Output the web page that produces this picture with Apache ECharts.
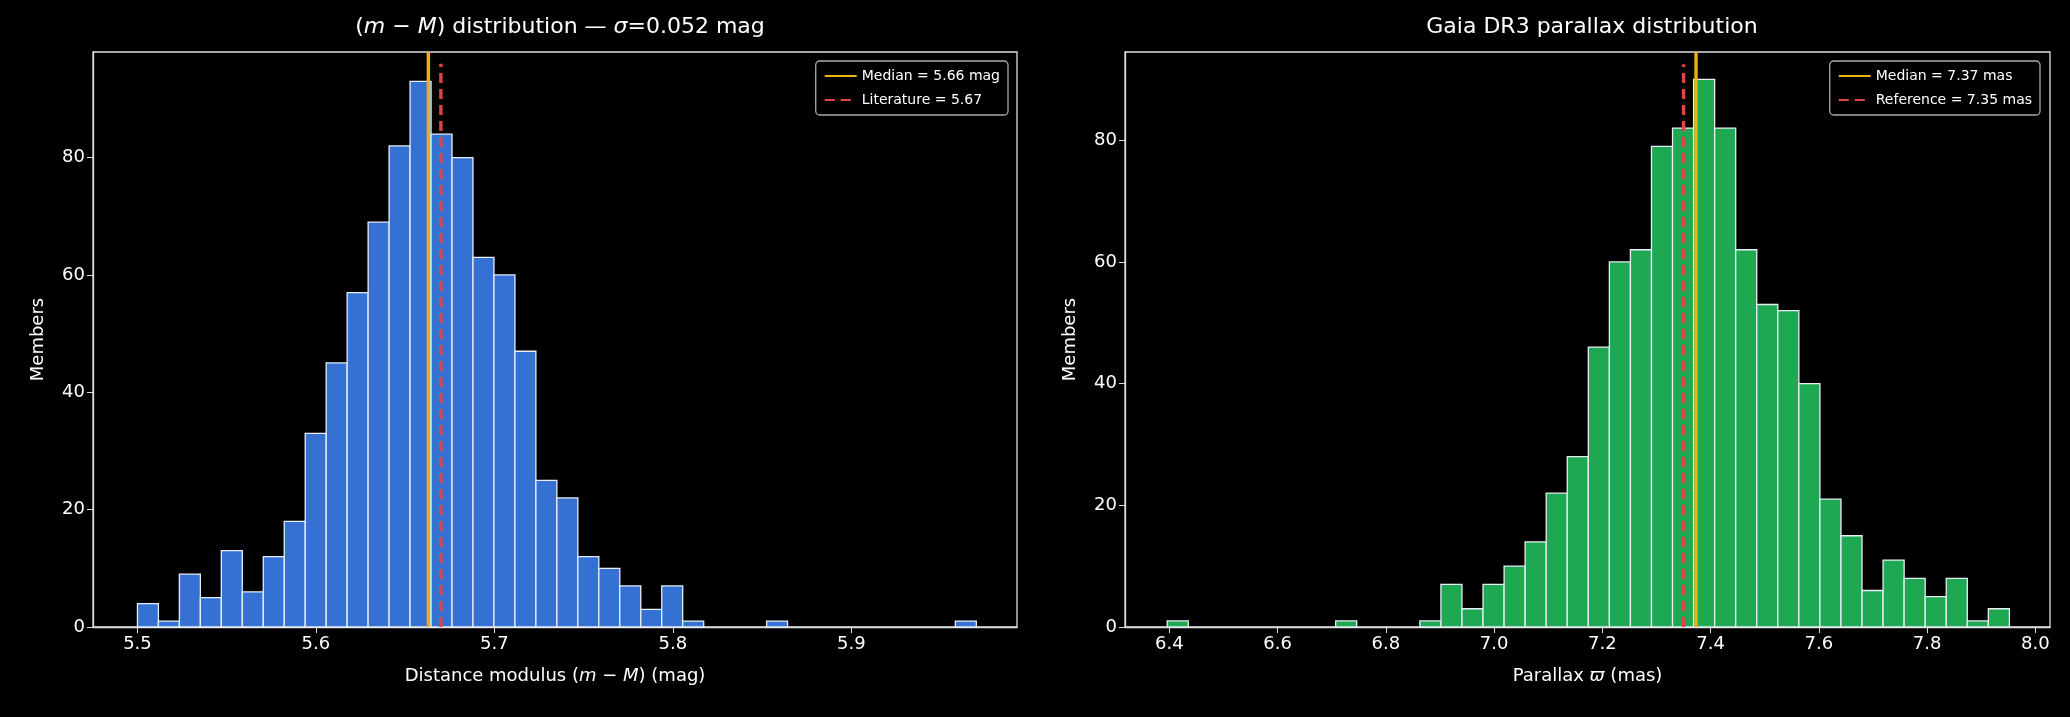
<!DOCTYPE html>
<html><head><meta charset="utf-8">
<script src="https://cdn.jsdelivr.net/npm/echarts@6/dist/echarts.min.js"></script>
<style>html,body{margin:0;padding:0;background:#000;}#c{width:2070px;height:717px;}</style>
</head><body><div id="c"></div>
<script>
// Left: distance modulus histogram (40 bins)
const dmStart = 5.5, dmWidth = 0.01175;
const dmCounts = [4,1,9,5,13,6,12,18,33,45,57,69,82,93,84,80,63,60,47,25,22,12,10,7,3,7,1,0,0,0,1,0,0,0,0,0,0,0,0,1];
const dmMedian = 5.663, dmLit = 5.67;
const dmTicks = [5.5,5.6,5.7,5.8,5.9];
// Right: parallax histogram (40 bins)
const plxStart = 6.396, plxWidth = 0.0389;
const plxCounts = [1,0,0,0,0,0,0,0,1,0,0,0,1,7,3,7,10,14,22,28,46,60,62,79,82,90,82,62,53,52,40,21,15,6,11,8,5,8,1,3];
const plxMedian = 7.373, plxRef = 7.35;
const plxTicks = [6.4,6.6,6.8,7.0,7.2,7.4,7.6,7.8,8.0];
const yTicksL = [0,20,40,60,80], yTicksR = [0,20,40,60,80];

const txt = '#ffffff', font = 'DejaVu Sans';
function bins(start,w,counts){return counts.map((c,i)=>[start+i*w,start+(i+1)*w,c]);}
function histSeries(idx,data,color){
  return {type:'custom',xAxisIndex:idx,yAxisIndex:idx,data:data,encode:{x:[0,1],y:2},z:2,
    renderItem:function(p,api){
      const a=api.coord([api.value(0),0]), b=api.coord([api.value(1),api.value(2)]);
      if(api.value(2)<=0) return null;
      return {type:'rect',shape:{x:a[0],y:b[1],width:b[0]-a[0],height:a[1]-b[1]},
        style:{fill:color,stroke:'#e8eef8',lineWidth:1.3}};
    }};
}
function vline(idx,name,x,ymax,color,type){
  return {type:'line',name:name,xAxisIndex:idx,yAxisIndex:idx,data:[[x,0],[x,ymax]],symbol:'none',showSymbol:false,z:5,
    lineStyle:{color:color,width:3.4,type:type==='dashed'?[10,6]:'solid'},itemStyle:{color:color}};
}
const nameRich={i:{fontStyle:'italic',fontSize:18,color:txt,fontFamily:font}};
function xAx(idx,min,max,ticks,name){
  return {type:'value',gridIndex:idx,min:min,max:max,name:name,nameLocation:'middle',nameGap:40,
    nameTextStyle:{color:txt,fontSize:18,fontFamily:font,rich:nameRich},
    axisLine:{show:true,onZero:false,lineStyle:{color:'#ddd',width:1.3}},
    axisTick:{show:true,length:6,customValues:ticks,lineStyle:{color:'#ddd'}},
    axisLabel:{color:txt,fontSize:18,fontFamily:font,customValues:ticks,formatter:v=>v.toFixed(1)},
    splitLine:{show:false}};
}
function yAx(idx,max,ticks){
  return {type:'value',gridIndex:idx,min:0,max:max,name:'Members',nameLocation:'middle',nameGap:46,
    nameTextStyle:{color:txt,fontSize:18,fontFamily:font},
    axisLine:{show:true,lineStyle:{color:'#ddd',width:1.3}},
    axisTick:{show:true,length:6,customValues:ticks,lineStyle:{color:'#ddd'}},
    axisLabel:{color:txt,fontSize:18,fontFamily:font,customValues:ticks},splitLine:{show:false}};
}
const legendBase={orient:'vertical',backgroundColor:'#000',borderColor:'#aaa',borderWidth:1.3,borderRadius:4,
  padding:[8,8],itemGap:10,itemWidth:32,itemHeight:10,itemStyle:{opacity:0},
  textStyle:{color:txt,fontSize:14,fontFamily:font}};
const chart=echarts.init(document.getElementById('c'));
chart.setOption({
  backgroundColor:'#000',animation:false,
  title:[
    {text:'({i|m} − {i|M}) distribution — {i|σ}=0.052 mag',left:555,top:11,textAlign:'center',
     textStyle:{color:txt,fontSize:22,fontWeight:'normal',fontFamily:font,
       rich:{i:{fontStyle:'italic',fontSize:22,color:txt,fontFamily:font}}}},
    {text:'Gaia DR3 parallax distribution',left:1587,top:11,textAlign:'center',
     textStyle:{color:txt,fontSize:22,fontWeight:'normal',fontFamily:font}}
  ],
  grid:[
    {left:93,width:924,top:52,height:575,show:true,borderColor:'#ddd',borderWidth:1.3,backgroundColor:'#000'},
    {left:1125,width:925,top:52,height:575,show:true,borderColor:'#ddd',borderWidth:1.3,backgroundColor:'#000'}
  ],
  xAxis:[xAx(0,5.4751,5.9928,dmTicks,'Distance modulus ({i|m} − {i|M}) (mag)'),
         xAx(1,6.318,8.027,plxTicks,'Parallax {i|ϖ} (mas)')],
  yAxis:[yAx(0,98.0,yTicksL),yAx(1,94.5,yTicksR)],
  legend:[
    Object.assign({},legendBase,{right:2070-1008,top:61,data:['Median = 5.66 mag','Literature = 5.67']}),
    Object.assign({},legendBase,{right:2070-2040,top:61,data:['Median = 7.37 mas','Reference = 7.35 mas']})
  ],
  series:[
    histSeries(0,bins(dmStart,dmWidth,dmCounts),'#3570d3'),
    histSeries(1,bins(plxStart,plxWidth,plxCounts),'#1fa852'),
    vline(0,'Median = 5.66 mag',dmMedian,98,'#ebb012','solid'),
    vline(0,'Literature = 5.67',dmLit,96,'#e04545','dashed'),
    vline(1,'Median = 7.37 mas',plxMedian,94.5,'#ebb012','solid'),
    vline(1,'Reference = 7.35 mas',plxRef,92.5,'#e04545','dashed')
  ]
});
</script></body></html>
